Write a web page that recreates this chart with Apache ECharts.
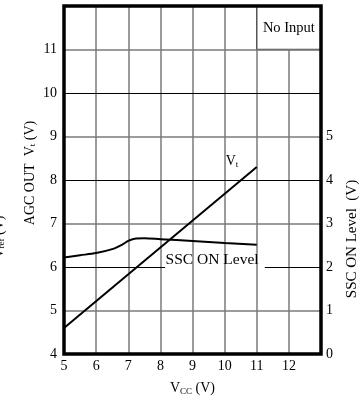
<!DOCTYPE html>
<html><head><meta charset="utf-8">
<script src="https://cdn.jsdelivr.net/npm/echarts@6/dist/echarts.min.js"></script>
<style>html,body{margin:0;padding:0;background:#fff}#c{width:364px;height:405px}</style>
</head><body><div id="c"></div>
<script>
// ---- data ----
const vtX = [5, 11];
const vtValues = [4.6, 8.3];                 // AGC OUT Vt (left axis, V)
const sscX = [5, 5.5, 6, 6.5, 6.8, 7, 7.2, 7.5, 8, 9, 10, 11];
const sscValues = [2.22, 2.27, 2.32, 2.41, 2.51, 2.6, 2.65, 2.66, 2.64, 2.6, 2.55, 2.51]; // SSC ON Level (right axis, V)
const xTickLabels = [5, 6, 7, 8, 9, 10, 11, 12];
const leftTickLabels = [4, 5, 6, 7, 8, 9, 10, 11];
const rightTickLabels = [0, 1, 2, 3, 4, 5];

const FONT = 'Liberation Serif';
const GRAY = '#7a7a7a';
const chart = echarts.init(document.getElementById('c'), null, {renderer: 'canvas'});

const vtData = vtX.map((x, i) => [x, vtValues[i]]);
const sscData = sscX.map((x, i) => [x, sscValues[i]]);

const sub = {
  v: {fontFamily: FONT, fontSize: 14, color: '#000'},
  s: {fontFamily: FONT, fontSize: 9, color: '#000', padding: [6, 0, 0, 0]}
};

const gridLine = (y, dark) => ({yAxis: y, lineStyle: {color: dark ? '#000' : GRAY, width: dark ? 1 : 1.5, type: 'solid'}});

chart.setOption({
  animation: false,
  backgroundColor: '#fff',
  grid: {left: 64, right: 43, top: 6, bottom: 51, containLabel: false},
  xAxis: {
    type: 'value', min: 5, max: 13, interval: 1,
    axisLine: {show: false}, axisTick: {show: false},
    axisLabel: {margin: 5, fontFamily: FONT, fontSize: 14, color: '#000',
      formatter: v => xTickLabels.includes(v) ? String(v) : ''},
    splitLine: {show: true, lineStyle: {color: GRAY, width: 1.5}},
    name: '{v|V}{s|CC}{v| (V)}', nameLocation: 'middle', nameGap: 27,
    nameTextStyle: {rich: sub}
  },
  yAxis: [{
    type: 'value', min: 4, max: 12, interval: 1,
    axisLine: {show: false}, axisTick: {show: false},
    axisLabel: {margin: 7, fontFamily: FONT, fontSize: 14, color: '#000',
      formatter: v => leftTickLabels.includes(v) ? String(v) : ''},
    splitLine: {show: false}
  }, {
    type: 'value', min: 0, max: 8, interval: 1, position: 'right',
    axisLine: {show: false}, axisTick: {show: false},
    axisLabel: {margin: 5, fontFamily: FONT, fontSize: 14, color: '#000',
      formatter: v => rightTickLabels.includes(v) ? String(v) : ''},
    splitLine: {show: false}
  }],
  series: [{
    name: 'Vt', type: 'line', data: vtData, yAxisIndex: 0,
    symbol: 'none', lineStyle: {color: '#000', width: 2}, z: 5,
    markLine: {
      silent: true, symbol: 'none', label: {show: false}, z: 1,
      data: [
        gridLine(5, false),
        [{coord: [5, 6], lineStyle: {color: '#000', width: 1, type: 'solid'}}, {coord: [8.15, 6]}],
        [{coord: [11.25, 6], lineStyle: {color: '#000', width: 1, type: 'solid'}}, {coord: [13, 6]}],
        gridLine(7, false), gridLine(8, true), gridLine(9, false),
        gridLine(10, true), gridLine(11, false)
      ]
    },
    markPoint: {
      silent: true, symbol: 'rect', symbolSize: 1, itemStyle: {color: 'rgba(0,0,0,0)'},
      label: {show: true, position: 'inside', formatter: '{v|V}{s|t}', rich: sub},
      data: [{coord: [10.23, 8.42]}]
    }
  }, {
    name: 'SSC ON Level', type: 'line', data: sscData, yAxisIndex: 1,
    symbol: 'none', smooth: 0.3, lineStyle: {color: '#000', width: 2}, z: 5,
    markArea: {
      silent: true,
      itemStyle: {color: '#fff', borderColor: '#555', borderWidth: 1.5},
      label: {show: true, position: 'inside', fontFamily: FONT, fontSize: 14.5, color: '#000'},
      data: [[{coord: [11, 7], name: 'No Input'}, {coord: [13, 8]}]]
    },
    markPoint: {
      silent: true, symbol: 'rect', symbolSize: 1, itemStyle: {color: 'rgba(0,0,0,0)'},
      label: {show: true, position: 'inside', formatter: 'SSC ON Level', fontFamily: FONT, fontSize: 15.5, color: '#000'},
      data: [{coord: [9.61, 2.16]}]
    }
  }]
});

const p0 = chart.convertToPixel({gridIndex: 0}, [5, 4]);
const p1 = chart.convertToPixel({gridIndex: 0}, [13, 12]);
chart.setOption({
  graphic: [
    {type: 'rect', z: 100, silent: true,
     shape: {x: p0[0], y: p1[1], width: p1[0] - p0[0], height: p0[1] - p1[1]},
     style: {fill: null, stroke: '#000', lineWidth: 3.5}},
    {type: 'text', z: 100, x: 30, y: 173, rotation: Math.PI / 2,
     style: {text: '{v|AGC OUT  V}{s|t}{v| (V)}', rich: sub, align: 'center', verticalAlign: 'middle'}},
    {type: 'text', z: 100, x: -1, y: 237, rotation: Math.PI / 2,
     style: {text: '{v|V}{s|ref}{v| (V)}', rich: sub, align: 'center', verticalAlign: 'middle'}},
    {type: 'text', z: 100, x: 352, y: 239, rotation: Math.PI / 2,
     style: {text: 'SSC ON Level  (V)', fontFamily: FONT, fontSize: 15, fill: '#000', align: 'center', verticalAlign: 'middle'}}
  ]
});
</script>
</body></html>
